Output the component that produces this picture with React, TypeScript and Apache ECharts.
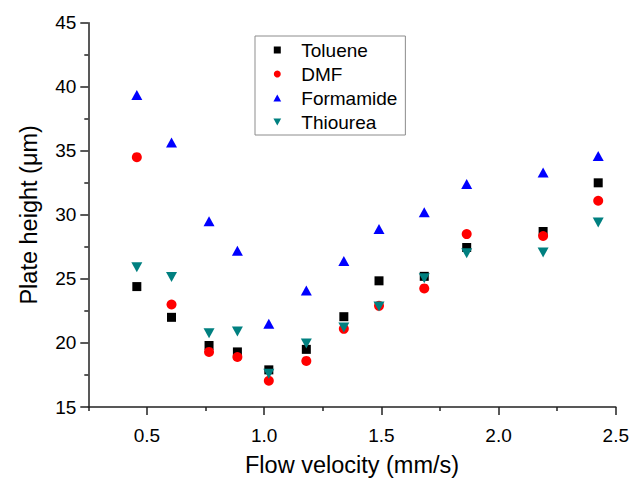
import React, { useEffect, useRef } from "react";
import * as echarts from "echarts";

const velocity = [0.457, 0.605, 0.765, 0.886, 1.02, 1.18, 1.34, 1.49, 1.683, 1.864, 2.19, 2.425];
const toluene = [24.4, 22.0, 19.8, 19.3, 17.9, 19.5, 22.05, 24.85, 25.2, 27.45, 28.7, 32.5];
const dmf = [34.5, 23.0, 19.3, 18.9, 17.05, 18.6, 21.1, 22.9, 24.26, 28.5, 28.35, 31.1];
const formamide = [39.35, 35.65, 29.5, 27.2, 21.5, 24.1, 26.4, 28.9, 30.2, 32.4, 33.3, 34.6];
const thiourea = [25.9, 25.15, 20.75, 20.9, 17.6, 19.95, 21.2, 22.85, 25.05, 27.0, 27.07, 29.4];

const xMajorTicks = [0.5, 1.0, 1.5, 2.0, 2.5];
const xMinorTicks = [0.25, 0.75, 1.25, 1.75, 2.25];

const FONT = "Arial, 'Liberation Sans', sans-serif";
const AXIS_COLOR = "#222";

const SQUARE = "path://M0,0 L10,0 L10,10 L0,10 Z";
const TRI_UP = "path://M5,0 L10,9 L0,9 Z";
const TRI_DOWN = "path://M0,0 L10,0 L5,9 Z";

const pair = (ys: number[]) => ys.map((y, i) => [velocity[i], y]);

export default function App() {
  const ref = useRef<HTMLDivElement>(null);
  useEffect(() => {
    if (!ref.current) return;
    const chart = echarts.init(ref.current, undefined, { renderer: "svg" });
    const scatterBase = {
      type: "scatter" as const,
      xAxisIndex: 0,
      yAxisIndex: 0,
    };
    chart.setOption({
      animation: false,
      backgroundColor: "#fff",
      grid: { left: 88.3, right: 14.5, top: 22.7, bottom: 67.7, containLabel: false },
      legend: {
        left: 255,
        top: 36,
        orient: "vertical",
        itemWidth: 38,
        itemHeight: 7,
        itemGap: 5,
        symbolKeepAspect: true,
        padding: [4.5, 8, 3.5, 18.4],
        borderColor: "#8c8c8c",
        borderWidth: 1,
        textStyle: { fontFamily: FONT, fontSize: 19, lineHeight: 19, color: "#000" },
        data: ["Toluene", "DMF", "Formamide", "Thiourea"],
      },
      xAxis: [
        {
          type: "value",
          min: 0.25,
          max: 2.5,
          interval: 0.25,
          name: "Flow velocity (mm/s)",
          nameLocation: "middle",
          nameGap: 46,
          nameTextStyle: { fontFamily: FONT, fontSize: 23.5, color: "#000" },
          axisLine: { show: true, lineStyle: { color: AXIS_COLOR, width: 1.5 } },
          axisTick: { show: true, customValues: xMajorTicks, length: 8, lineStyle: { color: AXIS_COLOR, width: 1.5 } },
          axisLabel: {
            customValues: xMajorTicks,
            margin: 19,
            fontFamily: FONT,
            fontSize: 19,
            color: "#000",
            formatter: (v: number) => v.toFixed(1),
          },
          splitLine: { show: false },
        },
        {
          type: "value",
          min: 0.25,
          max: 2.5,
          interval: 0.25,
          position: "bottom",
          axisLine: { show: false },
          axisTick: { show: true, customValues: xMinorTicks, length: 4, lineStyle: { color: AXIS_COLOR, width: 1.5 } },
          axisLabel: { show: false },
          splitLine: { show: false },
        },
      ],
      yAxis: {
        type: "value",
        min: 15,
        max: 45,
        interval: 5,
        name: "Plate height (μm)",
        nameLocation: "middle",
        nameGap: 47,
        nameTextStyle: { fontFamily: FONT, fontSize: 23.5, color: "#000" },
        axisLine: { show: true, lineStyle: { color: AXIS_COLOR, width: 1.5 } },
        axisTick: { show: true, length: 8, lineStyle: { color: AXIS_COLOR, width: 1.5 } },
        minorTick: { show: true, splitNumber: 2, length: 4, lineStyle: { color: AXIS_COLOR, width: 1.5 } },
        axisLabel: { margin: 12, fontFamily: FONT, fontSize: 19, color: "#000" },
        splitLine: { show: false },
        minorSplitLine: { show: false },
      },
      series: [
        { ...scatterBase, name: "Toluene", symbol: SQUARE, symbolSize: [9, 9], itemStyle: { color: "#000000", opacity: 1 }, data: pair(toluene) },
        { ...scatterBase, name: "DMF", symbol: "circle", symbolSize: 10, itemStyle: { color: "#ff0000", opacity: 1 }, data: pair(dmf) },
        { ...scatterBase, name: "Formamide", symbol: TRI_UP, symbolSize: [11, 10], itemStyle: { color: "#0000ff", opacity: 1 }, data: pair(formamide) },
        { ...scatterBase, name: "Thiourea", symbol: TRI_DOWN, symbolSize: [11, 10], itemStyle: { color: "#008080", opacity: 1 }, data: pair(thiourea) },
      ],
    });
    return () => chart.dispose();
  }, []);
  return (
    <div
      ref={ref}
      style={{ position: "fixed", left: 0, top: 0, width: 632, height: 482, background: "#fff" }}
    />
  );
}
